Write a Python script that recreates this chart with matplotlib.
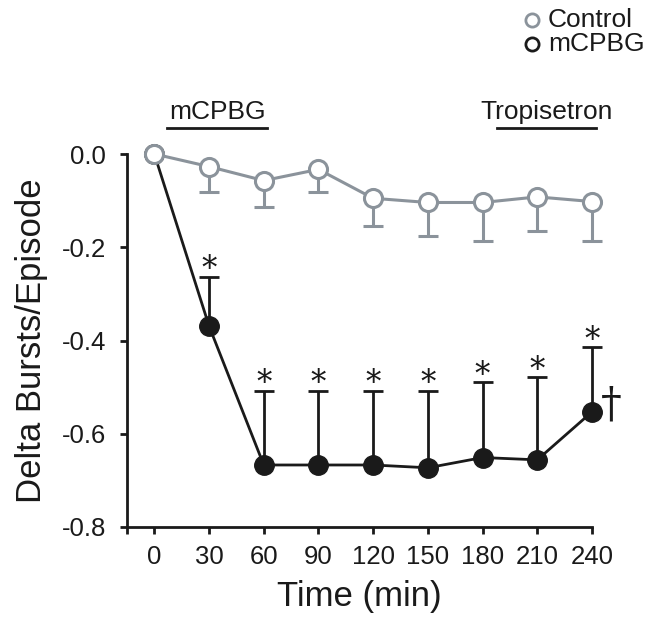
import numpy as np
import matplotlib
matplotlib.use("Agg")
import matplotlib.pyplot as plt
from matplotlib.lines import Line2D

plt.rcParams['font.family'] = ['Liberation Sans', 'DejaVu Sans']

# Data
times = [0, 30, 60, 90, 120, 150, 180, 210, 240]
control_mean = [0.0, -0.027, -0.057, -0.033, -0.095, -0.104, -0.104, -0.092, -0.102]
control_low = [0.0, -0.082, -0.114, -0.082, -0.154, -0.176, -0.186, -0.165, -0.186]
mcpbg_mean = [0.0, -0.369, -0.667, -0.667, -0.667, -0.673, -0.651, -0.656, -0.553]
mcpbg_high = [0.0, -0.263, -0.508, -0.508, -0.508, -0.508, -0.490, -0.479, -0.415]
star_times = [30, 60, 90, 120, 150, 180, 210, 240]
xtick_labels = ['0', '30', '60', '90', '120', '150', '180', '210', '240']
legend_labels = ['Control', 'mCPBG']

gray = '#8b939b'
black = '#1a1a1a'

W, H = 661, 630
fig = plt.figure(figsize=(W / 100, H / 100), dpi=100)
ax = fig.add_axes([127 / W, 103 / H, 465 / W, 373 / H])

t = np.array(times)
cm = np.array(control_mean)
mm = np.array(mcpbg_mean)
c_err = cm - np.array(control_low)
m_err = np.array(mcpbg_high) - mm

# mCPBG (black, filled)
ax.errorbar(t[1:], mm[1:], yerr=[np.zeros(len(t) - 1), m_err[1:]], fmt='none',
            ecolor=black, elinewidth=2, capsize=7.5, capthick=2, zorder=2, clip_on=False)
ax.plot(t, mm, color=black, lw=2, marker='o', ms=14, mfc=black, mec=black,
        zorder=3, clip_on=False)

# Control (gray, open)
ax.errorbar(t[1:], cm[1:], yerr=[c_err[1:], np.zeros(len(t) - 1)], fmt='none',
            ecolor=gray, elinewidth=2.2, capsize=7.5, capthick=2.2, zorder=4, clip_on=False)
ax.plot(t, cm, color=gray, lw=2.2, marker='o', ms=13, mfc='white', mec=gray, mew=2.2,
        zorder=5, clip_on=False)

# significance marks
for x, top in zip(star_times, mcpbg_high[1:]):
    ax.annotate('*', (x, top), xytext=(0, -6), textcoords='offset points',
                ha='center', va='bottom', fontsize=22, family='DejaVu Serif',
                color=black, annotation_clip=False)
ax.annotate('\u2020', (240, mcpbg_mean[-1]), xytext=(14, 5), textcoords='offset points',
            ha='center', va='center', fontsize=30, family='DejaVu Serif',
            color=black, annotation_clip=False)

# treatment bars
for label, x0, x1 in [('mCPBG', 7, 62), ('Tropisetron', 188, 242)]:
    ax.plot([x0, x1], [0.056, 0.056], color=black, lw=2, clip_on=False)
    ax.text((x0 + x1) / 2, 0.064, label, ha='center', va='bottom', fontsize=19,
            color=black)

ax.set_xlim(-15, 240)
ax.set_ylim(-0.8, 0.0)
ax.set_xticks([-15] + times)
ax.set_xticklabels([''] + xtick_labels)
ax.set_yticks([0.0, -0.2, -0.4, -0.6, -0.8])
ax.set_yticklabels(['0.0', '-0.2', '-0.4', '-0.6', '-0.8'])
ax.tick_params(axis='both', direction='out', length=5, width=2, labelsize=18.5,
               color=black, labelcolor=black)
ax.tick_params(axis='y', pad=10)
ax.tick_params(axis='x', pad=8)
ax.spines['top'].set_visible(False)
ax.spines['right'].set_visible(False)
for s in ['left', 'bottom']:
    ax.spines[s].set_linewidth(2)
    ax.spines[s].set_color(black)

ax.set_xlabel('Time (min)', fontsize=25, color=black, labelpad=8)
ax.set_ylabel('Delta Bursts/Episode', fontsize=25, color=black, labelpad=10)

# legend drawn by hand at the top right
for i, (lab, col) in enumerate(zip(legend_labels, [gray, black])):
    yy = 1 - (20 + 24 * i) / H
    fig.add_artist(Line2D([532 / W], [yy], ls='none', marker='o', ms=9.5,
                          mfc='white', mec=col, mew=2))
    fig.text(548 / W, yy, lab, ha='left', va='center', fontsize=19, color=black)

fig.savefig('out.png', dpi=100)
